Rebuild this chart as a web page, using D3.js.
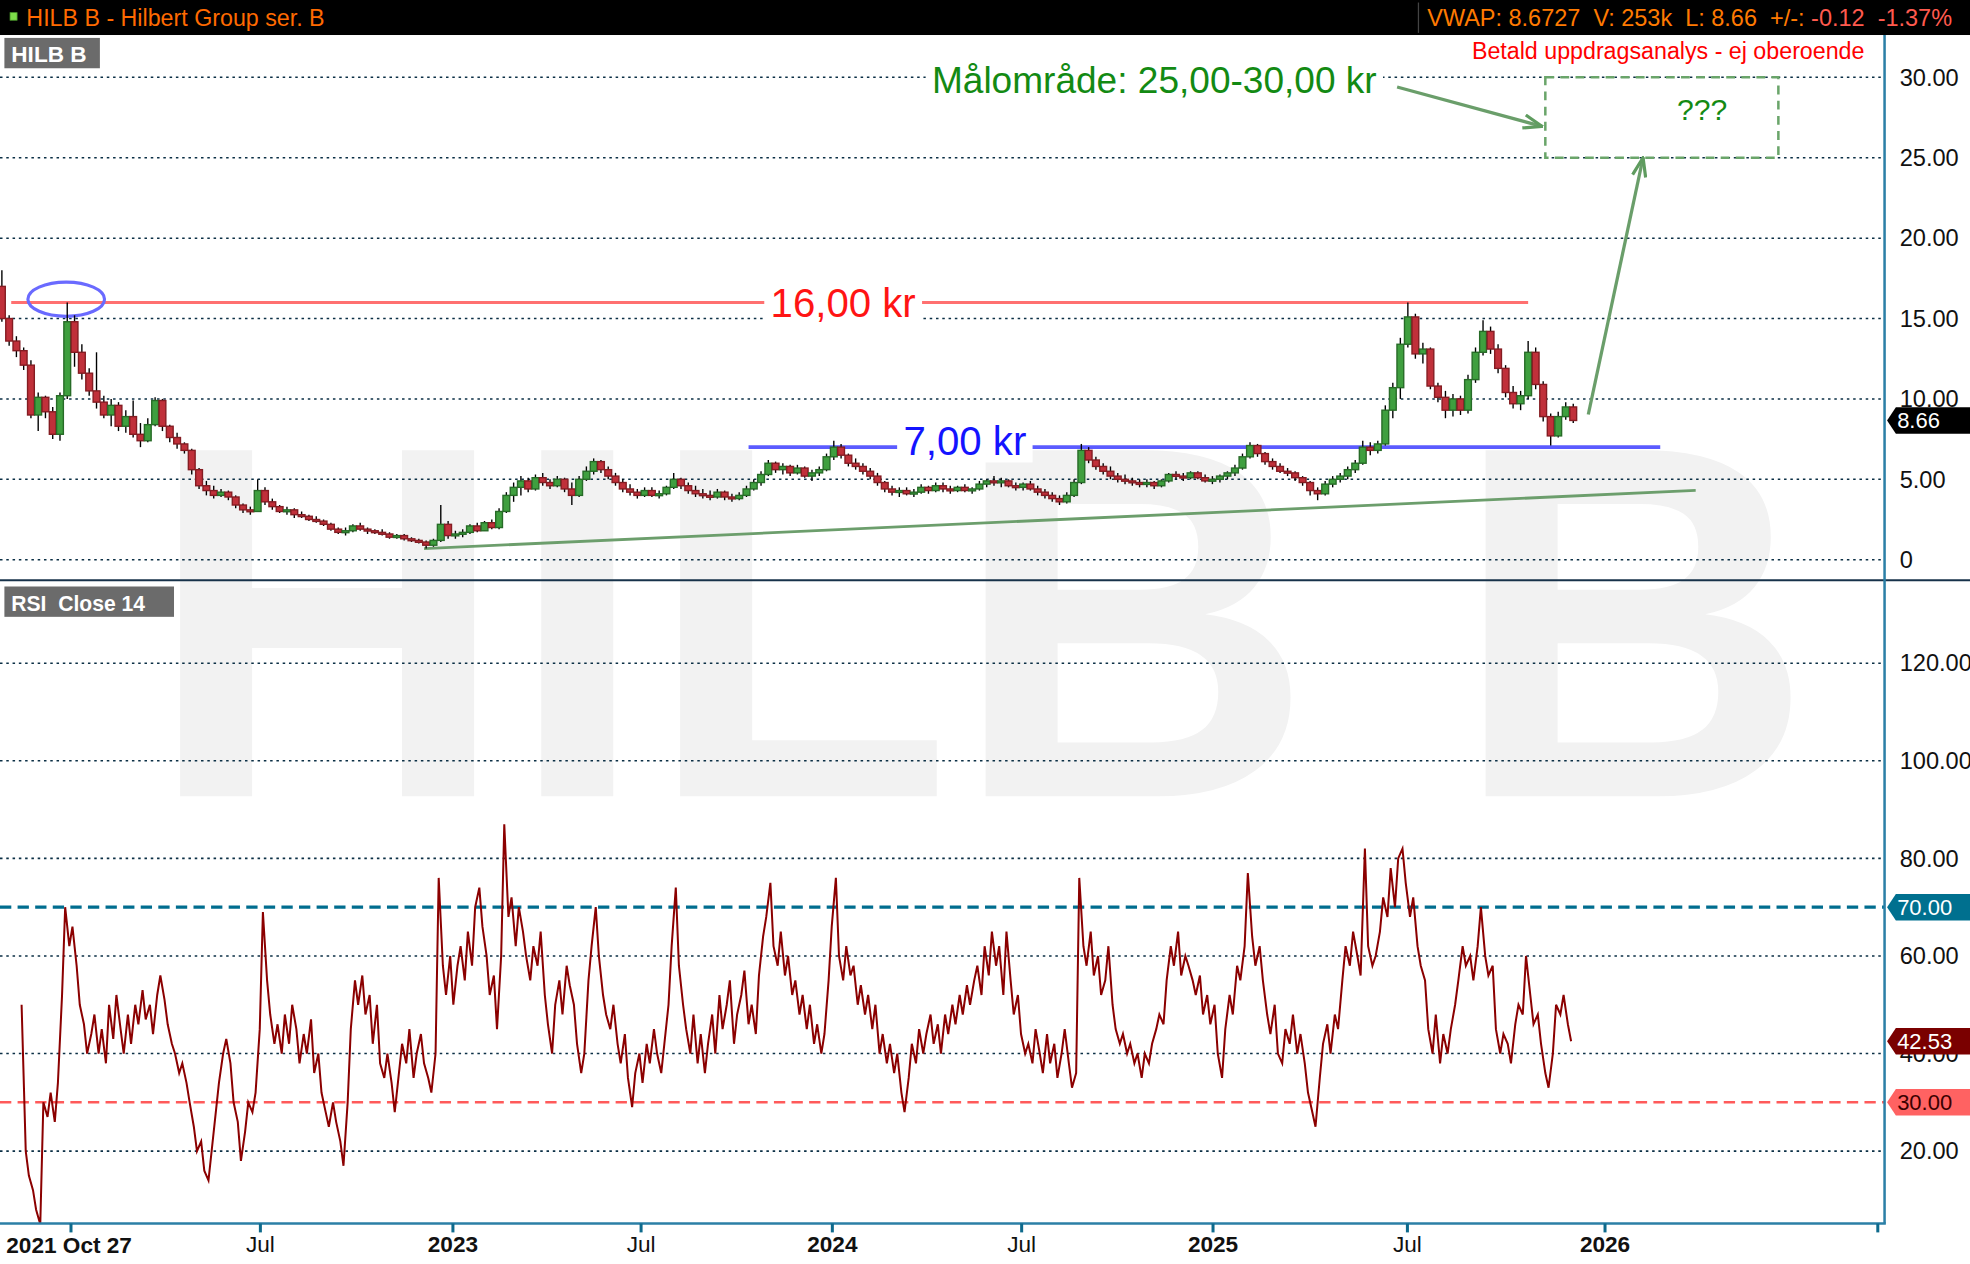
<!doctype html>
<html lang="sv">
<head>
<meta charset="utf-8">
<title>HILB B - Hilbert Group ser. B</title>
<script src="https://cdn.jsdelivr.net/npm/d3@7"></script>
<style>
  html, body { margin: 0; padding: 0; background: #fff; overflow: hidden; }
  svg { display: block; font-family: "Liberation Sans", Arial, sans-serif; }
</style>
</head>
<body>
<svg id="chart"></svg>
<script>
// weekly candles, first week starts here; each row is [open, high, low, close]
const firstWeek = "2021-10-27";
const ohlc = [
  [17.0,18.0,14.8,15.0],[15.0,15.2,13.3,13.6],[13.6,13.9,12.6,13.0],[13.0,13.2,11.8,12.1],[12.1,12.4,8.8,9.0],
  [9.0,10.4,8.0,10.1],[10.1,10.2,8.8,9.2],[9.2,9.5,7.5,7.8],[7.8,10.4,7.4,10.2],[10.2,16.0,10.0,14.8],
  [14.8,15.2,12.0,12.9],[12.9,13.4,11.2,11.6],[11.6,11.9,10.2,10.5],[10.5,12.9,9.4,9.8],[9.8,10.2,8.8,9.0],
  [9.0,10.0,8.3,9.6],[9.6,9.8,8.0,8.3],[8.3,9.3,7.9,8.9],[8.9,9.9,7.6,7.8],[7.8,8.5,7.0,7.4],
  [7.4,8.8,7.3,8.4],[8.4,10.1,8.3,9.9],[9.9,10.0,8.0,8.3],[8.3,8.4,7.3,7.6],[7.6,7.9,6.9,7.2],
  [7.2,7.3,6.6,6.8],[6.8,6.9,5.3,5.6],[5.6,5.7,4.4,4.6],[4.6,4.9,4.0,4.3],[4.3,4.6,3.8,4.0],
  [4.0,4.4,3.9,4.2],[4.2,4.3,3.7,3.9],[3.9,4.0,3.2,3.4],[3.4,3.5,2.9,3.1],[3.1,3.3,2.8,3.0],
  [3.0,5.0,3.0,4.3],[4.3,4.5,3.4,3.6],[3.6,3.8,3.1,3.3],[3.3,3.4,2.9,3.0],[3.0,3.3,2.8,3.1],
  [3.1,3.2,2.6,2.8],[2.8,3.0,2.6,2.7],[2.7,2.8,2.4,2.5],[2.5,2.7,2.3,2.4],[2.4,2.5,2.1,2.2],
  [2.2,2.3,1.8,1.9],[1.9,2.0,1.6,1.7],[1.7,2.0,1.5,1.8],[1.8,2.2,1.7,2.1],[2.1,2.3,1.8,1.9],
  [1.9,2.0,1.6,1.8],[1.8,1.9,1.6,1.7],[1.7,1.9,1.5,1.6],[1.6,1.7,1.3,1.4],[1.4,1.6,1.3,1.5],
  [1.5,1.6,1.2,1.3],[1.3,1.4,1.1,1.2],[1.2,1.3,1.0,1.1],[1.1,1.2,0.7,0.9],[0.9,1.3,0.8,1.2],
  [1.2,3.4,1.1,2.2],[2.2,2.4,1.3,1.5],[1.5,1.8,1.3,1.6],[1.6,1.9,1.4,1.7],[1.7,2.2,1.6,2.1],
  [2.1,2.3,1.7,1.8],[1.8,2.4,1.8,2.3],[2.3,2.5,1.9,2.0],[2.0,3.2,1.9,3.0],[3.0,4.2,2.9,4.0],
  [4.0,4.8,3.6,4.5],[4.5,5.2,4.0,4.9],[4.9,5.1,4.2,4.4],[4.4,5.3,4.3,5.1],[5.1,5.4,4.6,4.8],
  [4.8,5.0,4.4,4.6],[4.6,5.2,4.5,5.0],[5.0,5.1,4.2,4.4],[4.4,4.8,3.4,4.0],[4.0,5.2,3.9,5.0],
  [5.0,5.8,4.9,5.5],[5.5,6.3,5.3,6.1],[6.1,6.2,5.4,5.6],[5.6,5.8,5.0,5.2],[5.2,5.4,4.6,4.8],
  [4.8,5.0,4.2,4.4],[4.4,4.7,4.0,4.2],[4.2,4.4,3.8,4.0],[4.0,4.5,3.9,4.3],[4.3,4.5,3.9,4.0],
  [4.0,4.3,3.8,4.1],[4.1,4.6,4.0,4.5],[4.5,5.4,4.4,5.0],[5.0,5.1,4.4,4.6],[4.6,4.8,4.1,4.3],
  [4.3,4.6,3.9,4.1],[4.1,4.4,3.8,4.0],[4.0,4.3,3.7,3.9],[3.9,4.4,3.8,4.2],[4.2,4.3,3.7,3.9],
  [3.9,4.1,3.6,3.8],[3.8,4.2,3.7,4.0],[4.0,4.6,3.9,4.4],[4.4,5.0,4.3,4.8],[4.8,5.5,4.6,5.3],
  [5.3,6.2,5.2,6.0],[6.0,6.1,5.4,5.6],[5.6,6.0,5.3,5.8],[5.8,5.9,5.2,5.4],[5.4,5.9,5.3,5.7],
  [5.7,5.8,5.1,5.2],[5.2,5.6,4.9,5.4],[5.4,5.8,5.2,5.6],[5.6,6.6,5.5,6.4],[6.4,7.4,6.2,7.0],
  [7.0,7.2,6.3,6.5],[6.5,6.6,5.8,6.0],[6.0,6.3,5.6,5.8],[5.8,6.0,5.3,5.5],[5.5,5.7,5.0,5.2],
  [5.2,5.4,4.6,4.8],[4.8,4.9,4.2,4.4],[4.4,4.6,4.0,4.2],[4.2,4.5,3.9,4.3],[4.3,4.5,4.0,4.1],
  [4.1,4.4,3.9,4.2],[4.2,4.7,4.1,4.5],[4.5,4.6,4.1,4.3],[4.3,4.8,4.2,4.6],[4.6,4.8,4.2,4.4],
  [4.4,4.6,4.1,4.3],[4.3,4.6,4.2,4.5],[4.5,4.7,4.2,4.3],[4.3,4.5,4.1,4.4],[4.4,4.9,4.3,4.7],
  [4.7,5.0,4.5,4.9],[4.9,5.2,4.6,4.8],[4.8,5.1,4.5,4.9],[4.9,5.0,4.5,4.6],[4.6,4.8,4.3,4.5],
  [4.5,4.8,4.3,4.7],[4.7,4.9,4.3,4.4],[4.4,4.6,4.0,4.2],[4.2,4.4,3.8,4.0],[4.0,4.2,3.6,3.8],
  [3.8,4.0,3.4,3.6],[3.6,4.2,3.5,4.0],[4.0,5.0,3.9,4.8],[4.8,7.2,4.7,6.8],[6.8,7.0,6.0,6.2],
  [6.2,6.4,5.6,5.8],[5.8,6.0,5.3,5.5],[5.5,5.8,5.0,5.2],[5.2,5.4,4.8,5.0],[5.0,5.3,4.7,4.9],
  [4.9,5.1,4.6,4.8],[4.8,5.0,4.5,4.7],[4.7,5.0,4.5,4.8],[4.8,4.9,4.4,4.6],[4.6,5.0,4.5,4.9],
  [4.9,5.4,4.8,5.3],[5.3,5.5,5.0,5.2],[5.2,5.4,4.9,5.1],[5.1,5.5,5.0,5.4],[5.4,5.5,5.0,5.1],
  [5.1,5.3,4.8,4.9],[4.9,5.2,4.7,5.0],[5.0,5.3,4.8,5.2],[5.2,5.5,5.0,5.4],[5.4,5.9,5.2,5.7],
  [5.7,6.6,5.6,6.4],[6.4,7.3,6.3,7.1],[7.1,7.2,6.4,6.6],[6.6,6.7,5.9,6.1],[6.1,6.3,5.6,5.8],
  [5.8,6.0,5.4,5.5],[5.5,5.7,5.2,5.4],[5.4,5.5,4.9,5.1],[5.1,5.2,4.6,4.8],[4.8,4.9,4.0,4.3],
  [4.3,4.5,3.7,4.1],[4.1,4.9,4.0,4.7],[4.7,5.2,4.5,5.0],[5.0,5.4,4.8,5.2],[5.2,5.8,5.0,5.6],
  [5.6,6.2,5.4,6.0],[6.0,7.4,5.9,7.0],[7.0,7.3,6.5,6.8],[6.8,7.4,6.6,7.2],[7.2,9.6,7.1,9.3],
  [9.3,11.0,8.8,10.7],[10.7,13.8,10.0,13.4],[13.4,16.0,13.2,15.1],[15.1,15.3,12.5,12.8],[12.8,13.5,12.2,13.1],
  [13.1,13.2,10.6,10.8],[10.8,11.0,9.8,10.1],[10.1,10.5,8.8,9.3],[9.3,10.3,8.9,10.0],[10.0,10.2,9.0,9.3],
  [9.3,11.5,9.1,11.2],[11.2,13.2,11.0,12.9],[12.9,14.9,12.7,14.2],[14.2,14.5,12.8,13.1],[13.1,13.4,11.6,11.9],
  [11.9,12.1,10.1,10.4],[10.4,10.8,9.4,9.7],[9.7,10.5,9.3,10.2],[10.2,13.6,10.0,12.9],[12.9,13.2,10.6,10.9],
  [10.9,11.1,8.6,8.9],[8.9,9.1,7.1,7.7],[7.7,9.2,7.6,8.9],[8.9,9.8,8.7,9.5],[9.5,9.7,8.5,8.66]
];

// RSI(14), two readings a week (Mon / Thu) from this date
const rsiStart = "2021-11-15";
const rsi = [
  50,20,15,12,8,5,30,27,32,26, 34,52,70,62,66,58,50,46,40,44,
  48,40,45,38,50,43,52,45,40,48, 42,50,46,53,47,50,44,52,56,51,
  46,42,40,36,38,34,30,25,20,22, 16,14,20,28,34,40,43,38,30,26,
  18,24,30,28,32,45,69,55,48,42, 46,40,48,42,50,45,38,44,40,47,
  36,40,32,28,25,30,26,22,17,30, 45,55,50,56,48,52,42,50,38,35,
  40,34,28,36,42,38,45,35,40,44, 38,35,32,40,76,58,52,60,50,58,
  62,55,65,58,70,74,66,60,52,56, 45,60,87,68,72,62,70,65,60,55,
  62,58,65,52,46,40,50,55,48,58, 54,50,42,36,40,55,62,70,60,52,
  48,45,50,42,38,44,35,29,36,40, 34,42,38,45,40,36,42,50,62,74,
  58,50,45,40,48,38,44,36,42,48, 40,52,45,50,55,42,48,52,57,46,
  50,44,56,64,68,75,62,58,65,56, 60,52,55,48,52,45,50,42,46,40,
  44,55,66,76,60,55,62,56,58,50, 54,48,52,45,50,40,44,38,42,36,
  40,32,28,35,42,38,45,40,44,48, 42,46,40,48,44,50,46,52,48,54,
  50,55,58,52,62,56,65,58,62,52, 65,55,48,52,44,40,42,38,45,40,
  36,44,38,42,35,40,45,38,33,36, 76,62,58,65,56,60,52,55,62,50,
  45,42,44,40,42,38,40,35,40,38, 42,45,48,46,55,62,58,65,56,60,
  58,55,52,56,48,52,46,50,40,35, 45,52,48,58,55,62,77,64,58,62,
  55,48,44,50,40,38,45,42,48,40, 44,38,32,28,25,35,42,46,40,48,
  45,55,62,58,65,60,56,82,62,58, 60,65,72,68,78,70,80,82,75,68,
  72,62,58,55,45,40,48,38,44,40, 45,50,55,62,58,60,55,62,70,60,
  56,58,45,40,44,42,38,46,50,48, 60,52,46,48,42,36,33,40,50,48,
  52,46,42.53
];

const priceTicks = [0, 5, 10, 15, 20, 25, 30];
const rsiTicks = [20, 40, 60, 80, 100, 120];
const rsiBands = [70, 30];
const timeTicks = ["2022-01-01", "2022-07-01", "2023-01-01", "2023-07-01", "2024-01-01",
                   "2024-07-01", "2025-01-01", "2025-07-01", "2026-01-01", "2026-09-12"];

// drawn annotations, as [date, price]
const redLine = [["2021-11-05", 16], ["2025-10-22", 16]];
const blueLine = [["2023-10-13", 7], ["2026-02-22", 7]];
const trendLine = [["2022-12-05", 0.69], ["2026-03-27", 4.31]];
const targetBox = [["2025-11-07", 25], ["2026-06-12", 30]];
const arrowToBox = [["2025-06-22", 29.4], ["2025-11-04", 26.95]];
const arrowUp = [["2025-12-17", 9.03], ["2026-02-06", 25]];
const circleAt = ["2021-12-28", 16.2];

const parseDate = d3.timeParse("%Y-%m-%d");
const W = 1568, H = 1000;
const plotRight = 1500, headerH = 27.7, sepY = 459, axisY = 968;

const svg = d3.select("#chart")
  .attr("width", 1970).attr("height", 1264)
  .attr("viewBox", `0 0 ${W} ${H}`)
  .attr("preserveAspectRatio", "none");

// the chart spaces trading days, so calendar years are not all the same width
const x = d3.scaleTime()
  .domain(["2021-10-27", "2022-01-01", "2023-01-01", "2024-01-01", "2025-01-01", "2026-01-01"].map(parseDate))
  .range([1.5, 56, 360, 662, 965, 1277]);
const y = d3.scaleLinear().domain([0, 30]).range([442.8, 61.2]);
const yr = d3.scaleLinear().domain([20, 120]).range([910.7, 524.7]);

const candles = ohlc.map((d, i) => ({
  date: d3.timeDay.offset(parseDate(firstWeek), 7 * i), o: d[0], h: d[1], l: d[2], c: d[3]
}));
const rsiData = rsi.map((v, i) => ({ date: d3.timeDay.offset(parseDate(rsiStart), Math.round(i * 3.5)), v }));
const pt = d => [x(parseDate(d[0])), y(d[1])];

svg.append("rect").attr("width", W).attr("height", H).attr("fill", "#fff");

const defs = svg.append("defs");
defs.append("clipPath").attr("id", "clipPrice").append("rect")
  .attr("x", 0).attr("y", headerH).attr("width", plotRight).attr("height", sepY - headerH);
defs.append("clipPath").attr("id", "clipRsi").append("rect")
  .attr("x", 0).attr("y", sepY).attr("width", plotRight).attr("height", axisY - sepY);
defs.append("marker").attr("id", "arrowHead")
  .attr("viewBox", "0 0 16 12").attr("refX", 15).attr("refY", 6)
  .attr("markerWidth", 17).attr("markerHeight", 13).attr("markerUnits", "userSpaceOnUse")
  .attr("orient", "auto")
  .append("path").attr("d", "M1,1 L15,6 L1,11")
  .attr("fill", "none").attr("stroke", "#5f9c5f").attr("stroke-width", 2.4);

// watermark
svg.append("text")
  .attr("x", 780).attr("y", 630).attr("text-anchor", "middle")
  .attr("font-size", 398).attr("font-weight", "bold").attr("fill", "#f2f2f2")
  .text("HILB B");

// dotted grid
const grid = svg.append("g").attr("stroke", "#0b2f45").attr("stroke-width", 1.2).attr("stroke-dasharray", "2,3");
grid.selectAll("line.p").data(priceTicks).join("line").attr("class", "p")
  .attr("x1", 0).attr("x2", plotRight).attr("y1", d => y(d)).attr("y2", d => y(d));
grid.selectAll("line.r").data(rsiTicks).join("line").attr("class", "r")
  .attr("x1", 0).attr("x2", plotRight).attr("y1", d => yr(d)).attr("y2", d => yr(d));

// price annotations behind the candles
const ann = svg.append("g").attr("clip-path", "url(#clipPrice)");
const drawLine = (pts, color, width) => ann.append("line")
  .attr("x1", pt(pts[0])[0]).attr("y1", pt(pts[0])[1])
  .attr("x2", pt(pts[1])[0]).attr("y2", pt(pts[1])[1])
  .attr("stroke", color).attr("stroke-width", width);
drawLine(redLine, "#ff7070", 2.4);
drawLine(blueLine, "#5b5bff", 3);
drawLine(trendLine, "#6c9e6c", 2.2);

ann.append("ellipse")
  .attr("cx", pt(circleAt)[0]).attr("cy", pt(circleAt)[1])
  .attr("rx", 30.5).attr("ry", 13.5)
  .attr("fill", "none").attr("stroke", "#6a6aff").attr("stroke-width", 2.5);

// candles
const cw = 5.4;
const gC = svg.append("g").attr("clip-path", "url(#clipPrice)");
gC.selectAll("line.wick").data(candles).join("line").attr("class", "wick")
  .attr("x1", d => x(d.date)).attr("x2", d => x(d.date))
  .attr("y1", d => y(d.h)).attr("y2", d => y(d.l))
  .attr("stroke", "#000").attr("stroke-width", 1.1);
gC.selectAll("rect.body").data(candles).join("rect").attr("class", "body")
  .attr("x", d => x(d.date) - cw / 2).attr("width", cw)
  .attr("y", d => y(Math.max(d.o, d.c)))
  .attr("height", d => Math.max(1.5, Math.abs(y(d.o) - y(d.c))))
  .attr("fill", d => d.c >= d.o ? "#3f9f3f" : "#c0303a")
  .attr("stroke", d => d.c >= d.o ? "#276b27" : "#841c22").attr("stroke-width", 1.1);

// labels with white backing
function label(text, date, price, size, color, anchor) {
  const g = svg.append("g");
  const bg = g.append("rect").attr("fill", "#fff");
  const t = g.append("text")
    .attr("x", x(parseDate(date))).attr("y", y(price))
    .attr("text-anchor", anchor).attr("font-size", size).attr("fill", color)
    .text(text);
  const b = t.node().getBBox();
  bg.attr("x", b.x - 5).attr("y", b.y + 3).attr("width", b.width + 10).attr("height", b.height - 4);
}
label("16,00 kr", "2024-01-12", 15.12, 32, "#ff1414", "middle");
label("7,00 kr", "2024-05-08", 6.53, 32, "#1414ff", "middle");
label("Målområde: 25,00-30,00 kr", "2025-06-03", 29.0, 29.5, "#138a13", "end");

// target zone and arrows
const b0 = pt(targetBox[0]), b1 = pt(targetBox[1]);
svg.append("rect")
  .attr("x", b0[0]).attr("y", b1[1]).attr("width", b1[0] - b0[0]).attr("height", b0[1] - b1[1])
  .attr("fill", "none").attr("stroke", "#6aa56a").attr("stroke-width", 2).attr("stroke-dasharray", "7,5");
svg.append("text")
  .attr("x", x(parseDate("2026-04-02"))).attr("y", y(27.35)).attr("text-anchor", "middle")
  .attr("font-size", 24).attr("fill", "#138a13").text("???");
[arrowToBox, arrowUp].forEach(a => {
  svg.append("line")
    .attr("x1", pt(a[0])[0]).attr("y1", pt(a[0])[1])
    .attr("x2", pt(a[1])[0]).attr("y2", pt(a[1])[1])
    .attr("stroke", "#6a9e6a").attr("stroke-width", 2.6)
    .attr("marker-end", "url(#arrowHead)");
});

// RSI panel
const gR = svg.append("g").attr("clip-path", "url(#clipRsi)");
gR.selectAll("line.band").data(rsiBands).join("line").attr("class", "band")
  .attr("x1", 0).attr("x2", plotRight).attr("y1", d => yr(d)).attr("y2", d => yr(d))
  .attr("stroke", d => d === 70 ? "#006d8f" : "#ff5a5a")
  .attr("stroke-width", d => d === 70 ? 2.6 : 2)
  .attr("stroke-dasharray", "9,5");
gR.append("path").datum(rsiData)
  .attr("fill", "none").attr("stroke", "#8b0000").attr("stroke-width", 1.6)
  .attr("d", d3.line().x(d => x(d.date)).y(d => yr(d.v)));

// frame lines
svg.append("line").attr("x1", 0).attr("x2", W).attr("y1", sepY).attr("y2", sepY)
  .attr("stroke", "#17324a").attr("stroke-width", 1.6);
svg.append("line").attr("x1", plotRight).attr("x2", plotRight).attr("y1", headerH).attr("y2", axisY)
  .attr("stroke", "#2b7fa6").attr("stroke-width", 2);
svg.append("line").attr("x1", 0).attr("x2", plotRight + 1).attr("y1", axisY).attr("y2", axisY)
  .attr("stroke", "#2b7fa6").attr("stroke-width", 2);

// right axes
const styleAxis = g => {
  g.select(".domain").remove();
  g.selectAll("text").attr("font-size", 18.8).attr("fill", "#111")
    .attr("font-family", "'Liberation Sans', Arial, sans-serif");
};
svg.append("g").attr("transform", `translate(${plotRight},0)`)
  .call(d3.axisRight(y).tickValues(priceTicks).tickSize(0).tickPadding(12)
    .tickFormat(d => d === 0 ? "0" : d3.format(".2f")(d)))
  .call(styleAxis);
svg.append("g").attr("transform", `translate(${plotRight},0)`)
  .call(d3.axisRight(yr).tickValues(rsiTicks).tickSize(0).tickPadding(12).tickFormat(d3.format(".2f")))
  .call(styleAxis);

// value flags on the right axis
function flag(yPos, text, bgColor, textColor) {
  const g = svg.append("g");
  g.append("path")
    .attr("d", `M${plotRight + 2},${yPos} L${plotRight + 9},${yPos - 10.5} L${W},${yPos - 10.5} L${W},${yPos + 10.5} L${plotRight + 9},${yPos + 10.5} Z`)
    .attr("fill", bgColor);
  g.append("text").attr("x", plotRight + 10).attr("y", yPos).attr("dy", "0.35em")
    .attr("font-size", 17.5).attr("fill", textColor).text(text);
}
flag(yr(70), "70.00", "#00708f", "#fff");
flag(yr(30), "30.00", "#ff6262", "#3a0000");
flag(yr(rsi[rsi.length - 1]), d3.format(".2f")(rsi[rsi.length - 1]), "#7a0000", "#fff");
flag(y(ohlc[ohlc.length - 1][3]), d3.format(".2f")(ohlc[ohlc.length - 1][3]), "#000", "#fff");

// time axis
const julFmt = d3.timeFormat("%b"), yearFmt = d3.timeFormat("%Y");
const tickDates = timeTicks.map(parseDate);
const last = tickDates[tickDates.length - 1];
const xAxis = svg.append("g").attr("transform", `translate(0,${axisY})`)
  .call(d3.axisBottom(x).tickValues(tickDates).tickSize(7).tickPadding(3)
    .tickFormat(d => {
      if (+d === +last || +d === +tickDates[0]) return "";
      return d.getMonth() === 0 ? yearFmt(d) : julFmt(d);
    }));
xAxis.select(".domain").remove();
xAxis.selectAll(".tick line").attr("stroke", "#0e6a8c").attr("stroke-width", 2.4);
xAxis.selectAll(".tick text")
  .attr("font-size", 18).attr("fill", "#111")
  .attr("font-family", "'Liberation Sans', Arial, sans-serif")
  .attr("font-weight", d => d.getMonth() === 0 ? "bold" : "normal");
svg.append("text")
  .attr("x", x(parseDate(firstWeek)) + 3.5).attr("y", axisY + 23)
  .attr("font-size", 18).attr("font-weight", "bold").attr("fill", "#111")
  .text("2021 Oct 27");

// panel name boxes
function nameBox(yTop, w, text, size) {
  svg.append("rect").attr("x", 3.5).attr("y", yTop).attr("width", w).attr("height", 24).attr("fill", "#6b6b6b");
  svg.append("text").attr("x", 9).attr("y", yTop + 19).attr("font-size", size)
    .attr("font-weight", "bold").attr("fill", "#fff")
    .style("white-space", "pre").text(text);
}
nameBox(30, 76, "HILB B", 18);
nameBox(464, 135, "RSI  Close 14", 16.8);

svg.append("text").attr("x", 1484).attr("y", 47).attr("text-anchor", "end")
  .attr("font-size", 18.5).attr("fill", "#ff0000")
  .text("Betald uppdragsanalys - ej oberoende");

// header bar
svg.append("rect").attr("width", W).attr("height", headerH).attr("fill", "#000");
svg.append("rect").attr("x", 8).attr("y", 10).attr("width", 5.6).attr("height", 6)
  .attr("fill", "#7ddc4a").attr("stroke", "#4a9a2a").attr("stroke-width", 0.6);
svg.append("text").attr("x", 21).attr("y", 20.5).attr("font-size", 18.5).attr("fill", "#ff6a00")
  .text("HILB B - Hilbert Group ser. B");
svg.append("line").attr("x1", 1129).attr("x2", 1129).attr("y1", 2).attr("y2", 26)
  .attr("stroke", "#444").attr("stroke-width", 1);
const quote = svg.append("text").attr("x", 1136).attr("y", 20.5).attr("font-size", 18.7)
  .style("white-space", "pre");
quote.append("tspan").attr("fill", "#ff7a00").text("VWAP: 8.6727  V: 253k  L: 8.66  +/-: ");
quote.append("tspan").attr("fill", "#ff5a4e").text("-0.12  -1.37%");
</script>
</body>
</html>
